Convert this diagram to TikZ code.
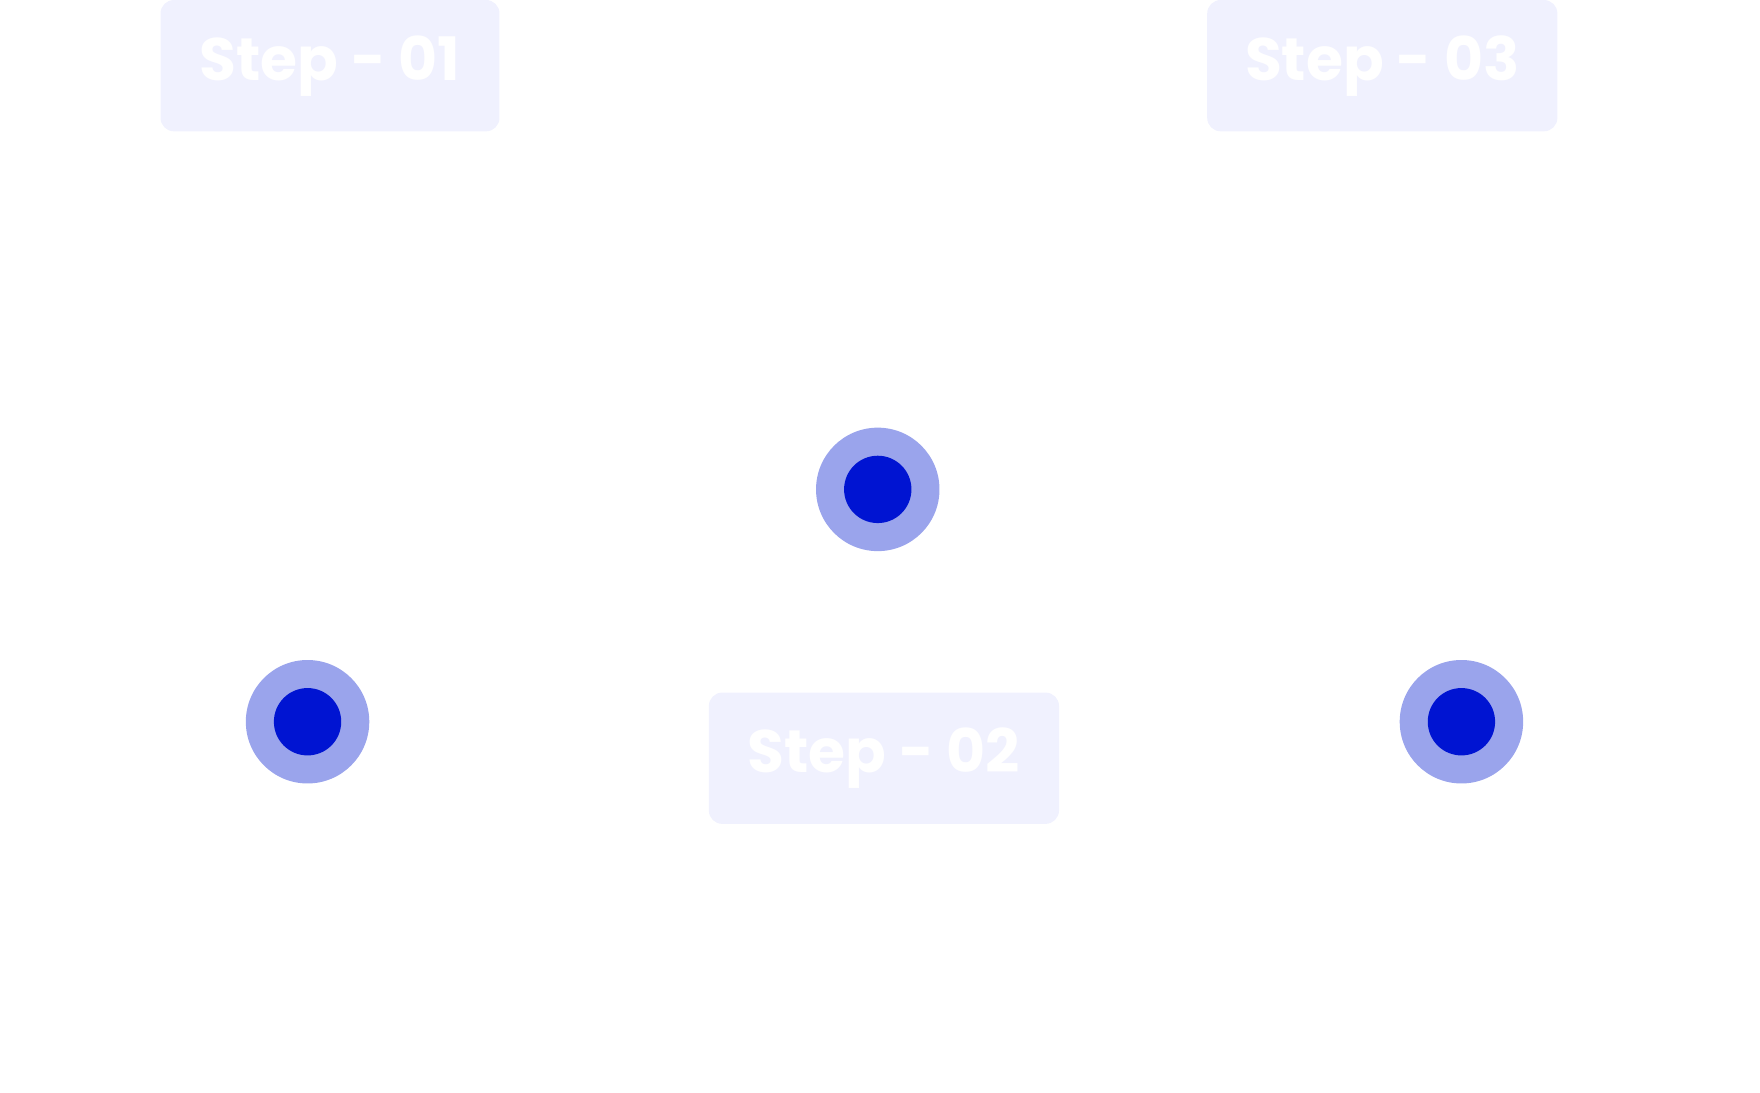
\documentclass[tikz,border=0pt]{standalone}
\usepackage{fontspec}
\setmainfont{Poppins}
\definecolor{boxfill}{HTML}{F0F1FE}
\definecolor{ringblue}{HTML}{9AA4EC}
\definecolor{dotblue}{HTML}{0014D2}
\tikzset{
  stepbox/.style={fill=boxfill, rounded corners=12*0.025cm, minimum width=312*0.025cm,
    minimum height=117*0.025cm, text=white, font=\fontsize{38}{40}\selectfont\bfseries},
  ring/.style={circle, fill=ringblue, minimum size=110*0.025cm, inner sep=0pt},
  dot/.style={circle, fill=dotblue, minimum size=60*0.025cm, inner sep=0pt}
}
\begin{document}
\begin{tikzpicture}[x=0.025cm,y=-0.025cm]
        \useasboundingbox (0,0) rectangle (1568,973);
        \node[stepbox, minimum width=302*0.025cm] (S1) at (294,58.5) {Step - 01};
        \node[stepbox] (S2) at (787.5,675.5) {Step - 02};
        \node[stepbox] (S3) at (1231.5,58.5) {Step - 03};

        % markers
        \node[ring] (R1) at (274,643) {};
        \node[dot] (D1) at (R1) {};
        \node[ring] (R2) at (782,436) {};
        \node[dot] (D2) at (R2) {};
        \node[ring] (R3) at (1302,643) {};
        \node[dot] (D3) at (R3) {};
    \end{tikzpicture}
\end{document}
